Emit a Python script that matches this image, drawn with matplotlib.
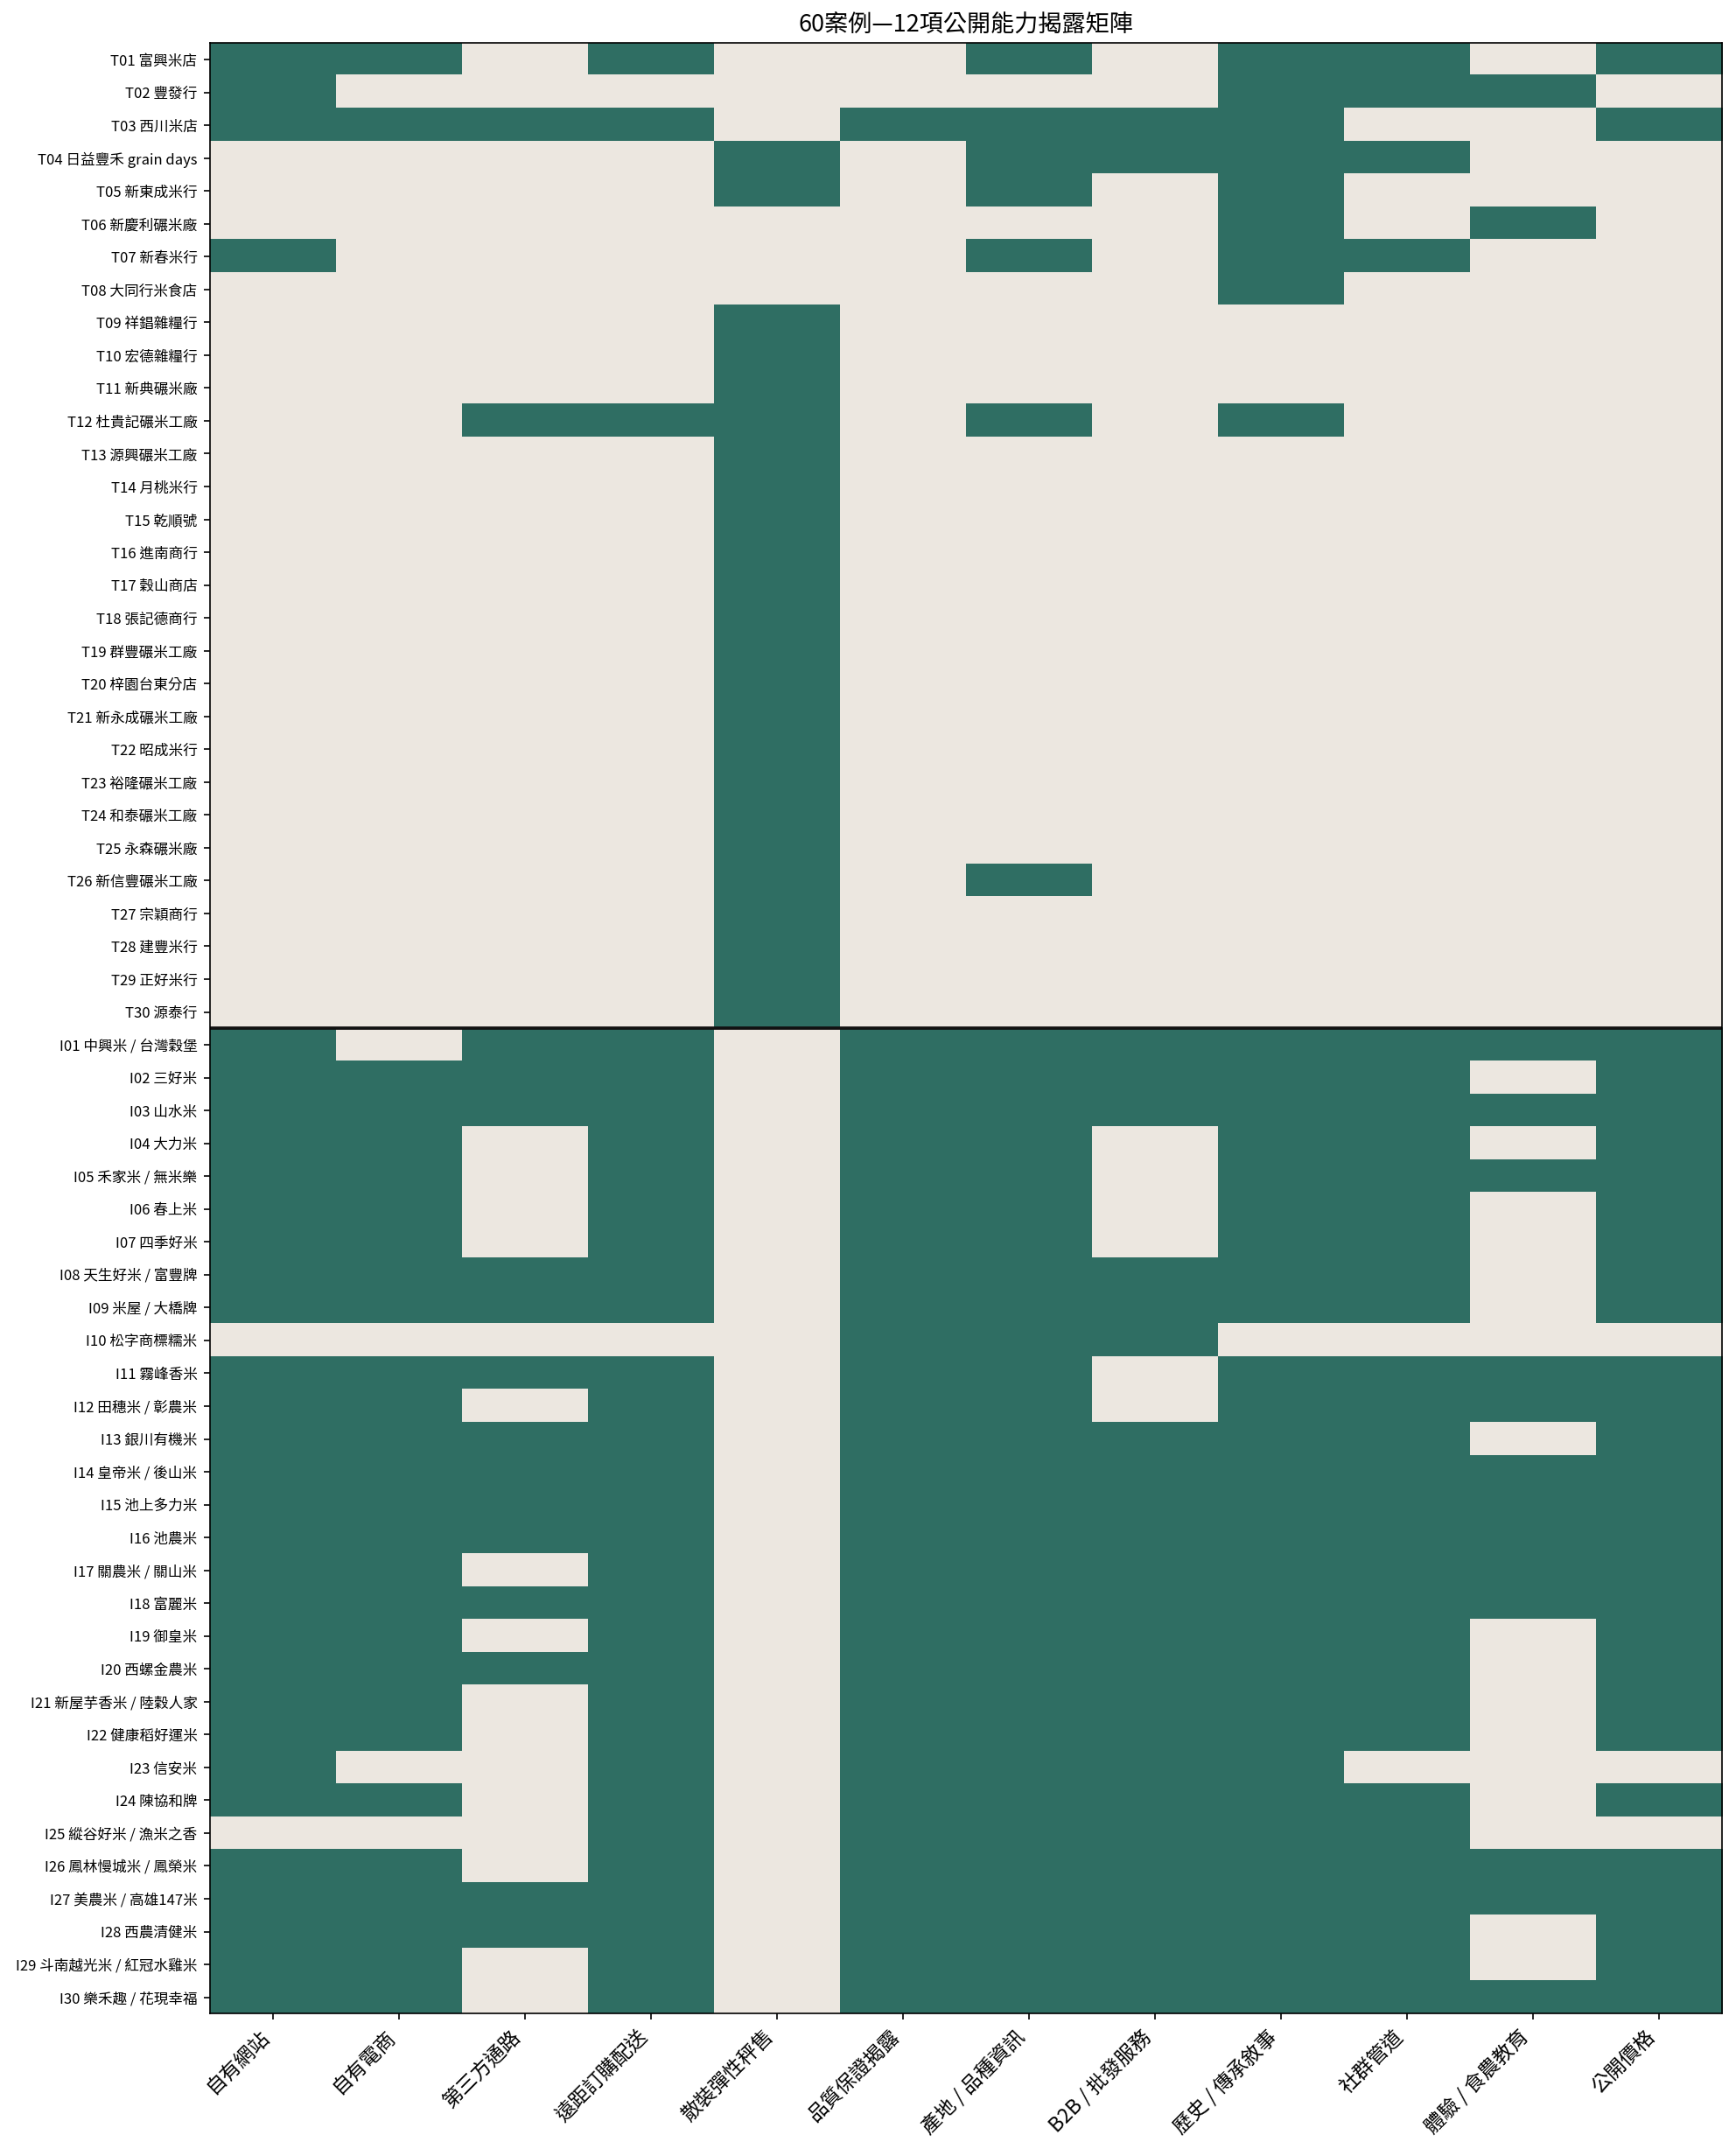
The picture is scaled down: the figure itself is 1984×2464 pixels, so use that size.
import matplotlib
matplotlib.use("Agg")
import matplotlib.pyplot as plt
import numpy as np
from matplotlib.colors import ListedColormap

plt.rcParams["font.family"] = ["Noto Sans CJK TC", "DejaVu Sans"]

CAPABILITIES = [
    "自有網站", "自有電商", "第三方通路", "遠距訂購配送", "散裝彈性秤售", "品質保證揭露",
    "產地 / 品種資訊", "B2B / 批發服務", "歷史 / 傳承敘事", "社群管道", "體驗 / 食農教育", "公開價格",
]

T_CASES = [
    "T01 富興米店", "T02 豐發行", "T03 西川米店", "T04 日益豐禾 grain days", "T05 新東成米行",
    "T06 新慶利碾米廠", "T07 新春米行", "T08 大同行米食店", "T09 祥錩雜糧行", "T10 宏德雜糧行",
    "T11 新典碾米廠", "T12 杜貴記碾米工廠", "T13 源興碾米工廠", "T14 月桃米行", "T15 乾順號",
    "T16 進南商行", "T17 穀山商店", "T18 張記德商行", "T19 群豐碾米工廠", "T20 梓園台東分店",
    "T21 新永成碾米工廠", "T22 昭成米行", "T23 裕隆碾米工廠", "T24 和泰碾米工廠", "T25 永森碾米廠",
    "T26 新信豐碾米工廠", "T27 宗穎商行", "T28 建豐米行", "T29 正好米行", "T30 源泰行",
]

I_CASES = [
    "I01 中興米 / 台灣穀堡", "I02 三好米", "I03 山水米", "I04 大力米", "I05 禾家米 / 無米樂",
    "I06 春上米", "I07 四季好米", "I08 天生好米 / 富豐牌", "I09 米屋 / 大橋牌", "I10 松字商標糯米",
    "I11 霧峰香米", "I12 田穗米 / 彰農米", "I13 銀川有機米", "I14 皇帝米 / 後山米", "I15 池上多力米",
    "I16 池農米", "I17 關農米 / 關山米", "I18 富麗米", "I19 御皇米", "I20 西螺金農米",
    "I21 新屋芋香米 / 陸穀人家", "I22 健康稻好運米", "I23 信安米", "I24 陳協和牌", "I25 縱谷好米 / 漁米之香",
    "I26 鳳林慢城米 / 鳳榮米", "I27 美農米 / 高雄147米", "I28 西農清健米", "I29 斗南越光米 / 紅冠水雞米", "I30 樂禾趣 / 花現幸福",
]

# 1 = capability publicly disclosed
T_MATRIX = [
    [1, 1, 0, 1, 0, 0, 1, 0, 1, 1, 0, 1],
    [1, 0, 0, 0, 0, 0, 0, 0, 1, 1, 1, 0],
    [1, 1, 1, 1, 0, 1, 1, 1, 1, 0, 0, 1],
    [0, 0, 0, 0, 1, 0, 1, 1, 1, 1, 0, 0],
    [0, 0, 0, 0, 1, 0, 1, 0, 1, 0, 0, 0],
    [0, 0, 0, 0, 0, 0, 0, 0, 1, 0, 1, 0],
    [1, 0, 0, 0, 0, 0, 1, 0, 1, 1, 0, 0],
    [0, 0, 0, 0, 0, 0, 0, 0, 1, 0, 0, 0],
    [0, 0, 0, 0, 1, 0, 0, 0, 0, 0, 0, 0],
    [0, 0, 0, 0, 1, 0, 0, 0, 0, 0, 0, 0],
    [0, 0, 0, 0, 1, 0, 0, 0, 0, 0, 0, 0],
    [0, 0, 1, 1, 1, 0, 1, 0, 1, 0, 0, 0],
    [0, 0, 0, 0, 1, 0, 0, 0, 0, 0, 0, 0],
    [0, 0, 0, 0, 1, 0, 0, 0, 0, 0, 0, 0],
    [0, 0, 0, 0, 1, 0, 0, 0, 0, 0, 0, 0],
    [0, 0, 0, 0, 1, 0, 0, 0, 0, 0, 0, 0],
    [0, 0, 0, 0, 1, 0, 0, 0, 0, 0, 0, 0],
    [0, 0, 0, 0, 1, 0, 0, 0, 0, 0, 0, 0],
    [0, 0, 0, 0, 1, 0, 0, 0, 0, 0, 0, 0],
    [0, 0, 0, 0, 1, 0, 0, 0, 0, 0, 0, 0],
    [0, 0, 0, 0, 1, 0, 0, 0, 0, 0, 0, 0],
    [0, 0, 0, 0, 1, 0, 0, 0, 0, 0, 0, 0],
    [0, 0, 0, 0, 1, 0, 0, 0, 0, 0, 0, 0],
    [0, 0, 0, 0, 1, 0, 0, 0, 0, 0, 0, 0],
    [0, 0, 0, 0, 1, 0, 0, 0, 0, 0, 0, 0],
    [0, 0, 0, 0, 1, 0, 1, 0, 0, 0, 0, 0],
    [0, 0, 0, 0, 1, 0, 0, 0, 0, 0, 0, 0],
    [0, 0, 0, 0, 1, 0, 0, 0, 0, 0, 0, 0],
    [0, 0, 0, 0, 1, 0, 0, 0, 0, 0, 0, 0],
    [0, 0, 0, 0, 1, 0, 0, 0, 0, 0, 0, 0],
]

I_MATRIX = [
    [1, 0, 1, 1, 0, 1, 1, 1, 1, 1, 1, 1],
    [1, 1, 1, 1, 0, 1, 1, 1, 1, 1, 0, 1],
    [1, 1, 1, 1, 0, 1, 1, 1, 1, 1, 1, 1],
    [1, 1, 0, 1, 0, 1, 1, 0, 1, 1, 0, 1],
    [1, 1, 0, 1, 0, 1, 1, 0, 1, 1, 1, 1],
    [1, 1, 0, 1, 0, 1, 1, 0, 1, 1, 0, 1],
    [1, 1, 0, 1, 0, 1, 1, 0, 1, 1, 0, 1],
    [1, 1, 1, 1, 0, 1, 1, 1, 1, 1, 0, 1],
    [1, 1, 1, 1, 0, 1, 1, 1, 1, 1, 0, 1],
    [0, 0, 0, 0, 0, 1, 1, 1, 0, 0, 0, 0],
    [1, 1, 1, 1, 0, 1, 1, 0, 1, 1, 1, 1],
    [1, 1, 0, 1, 0, 1, 1, 0, 1, 1, 1, 1],
    [1, 1, 1, 1, 0, 1, 1, 1, 1, 1, 0, 1],
    [1, 1, 1, 1, 0, 1, 1, 1, 1, 1, 1, 1],
    [1, 1, 1, 1, 0, 1, 1, 1, 1, 1, 1, 1],
    [1, 1, 1, 1, 0, 1, 1, 1, 1, 1, 1, 1],
    [1, 1, 0, 1, 0, 1, 1, 1, 1, 1, 1, 1],
    [1, 1, 1, 1, 0, 1, 1, 1, 1, 1, 1, 1],
    [1, 1, 0, 1, 0, 1, 1, 1, 1, 1, 0, 1],
    [1, 1, 1, 1, 0, 1, 1, 1, 1, 1, 0, 1],
    [1, 1, 0, 1, 0, 1, 1, 1, 1, 1, 0, 1],
    [1, 1, 0, 1, 0, 1, 1, 1, 1, 1, 0, 1],
    [1, 0, 0, 1, 0, 1, 1, 1, 1, 0, 0, 0],
    [1, 1, 0, 1, 0, 1, 1, 1, 1, 1, 0, 1],
    [0, 0, 0, 1, 0, 1, 1, 1, 1, 1, 0, 0],
    [1, 1, 0, 1, 0, 1, 1, 1, 1, 1, 1, 1],
    [1, 1, 1, 1, 0, 1, 1, 1, 1, 1, 1, 1],
    [1, 1, 1, 1, 0, 1, 1, 1, 1, 1, 0, 1],
    [1, 1, 0, 1, 0, 1, 1, 1, 1, 1, 0, 1],
    [1, 1, 0, 1, 0, 1, 1, 1, 1, 1, 1, 1],
]

COLOR_NO = "#ece7e0"
COLOR_YES = "#2f6e63"

cases = T_CASES + I_CASES
matrix = np.array(T_MATRIX + I_MATRIX)

fig, ax = plt.subplots(figsize=(1984 / 150, 2464 / 150), dpi=150)
fig.subplots_adjust(left=0.121, right=0.992, top=0.980, bottom=0.066)

ax.imshow(matrix, cmap=ListedColormap([COLOR_NO, COLOR_YES]), vmin=0, vmax=1,
          aspect="auto", interpolation="nearest")

# divider between the two groups
ax.axhline(len(T_CASES) - 0.5, color="#111111", linewidth=1.8)

ax.set_xticks(np.arange(len(CAPABILITIES)))
ax.set_xticklabels(CAPABILITIES, rotation=45, ha="right", fontsize=11)
ax.set_yticks(np.arange(len(cases)))
ax.set_yticklabels(cases, fontsize=8)
ax.set_title("60案例—12項公開能力揭露矩陣", fontsize=13)

fig.savefig("out.png", dpi=150, facecolor="white")
plt.close(fig)
